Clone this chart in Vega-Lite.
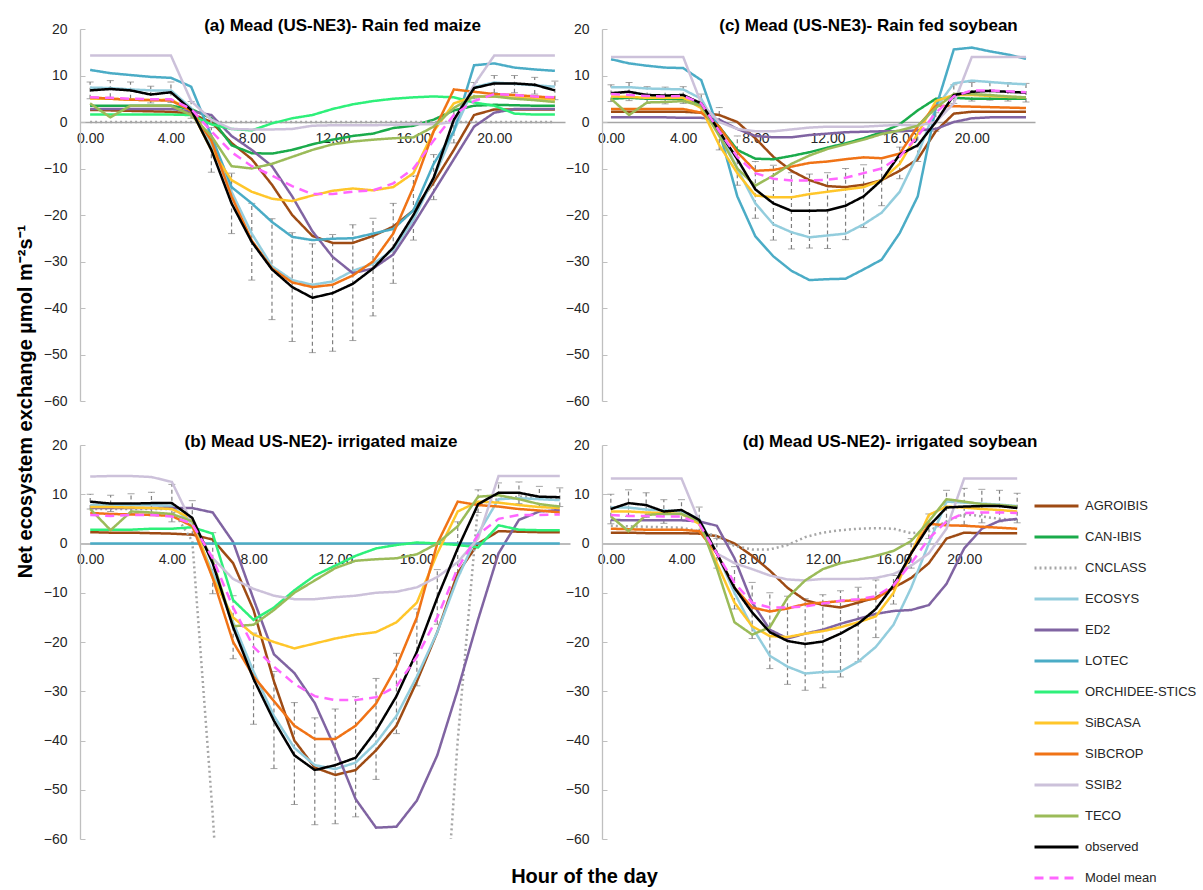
{
"$schema": "https://vega.github.io/schema/vega-lite/v6.json",
"background": "white",
"padding": {"left": 16, "top": 17, "right": 0, "bottom": 0},
"title": {"text": "Net ecosystem exchange µmol m⁻²s⁻¹", "orient": "left", "anchor": "middle", "font": "Liberation Sans", "fontSize": 20, "fontWeight": "bold", "color": "#000000", "offset": -13, "dx": 54, "baseline": "bottom"},
"config": {
  "view": {"stroke": null},
  "font": "Liberation Sans",
  "axis": {"labelFont": "Liberation Sans", "labelFontSize": 14, "labelColor": "#262626", "grid": false, "domainColor": "#BFBFBF", "domainWidth": 1.3, "tickColor": "#BFBFBF"},
  "axisX": {"ticks": false, "labelPadding": 9, "labelFlush": false, "labelOverlap": false, "domainColor": "#A6A6A6"},
  "axisY": {"tickCount": 8, "tickSize": -5, "labelPadding": 18},
  "title": {"font": "Liberation Sans", "fontSize": 17, "fontWeight": "bold", "color": "#000000", "anchor": "middle", "offset": -13, "baseline": "alphabetic"},
  "legend": {"orient": "none", "legendX": 953, "legendY": 462, "symbolType": "stroke", "symbolSize": 1936, "symbolStrokeWidth": 3, "clipHeight": 30.2, "rowPadding": 0, "labelFontSize": 13, "labelFont": "Liberation Sans", "labelColor": "#262626", "labelOffset": 5, "padding": 0, "labelLimit": 300}
},
"datasets": {
"a": [
{"h":0,"AGROIBIS":2.6,"CAN-IBIS":3.5,"CNCLASS":0,"ECOSYS":7.4,"ED2":2.8,"LOTEC":11.2,"ORCHIDEE-STICS":1.6,"SiBCASA":5,"SIBCROP":5.3,"SSIB2":14.3,"TECO":4,"observed":6.8,"Model mean":5.3,"lo":5.0,"hi":8.6},
{"h":1,"AGROIBIS":2.5,"CAN-IBIS":3.5,"CNCLASS":0,"ECOSYS":7.3,"ED2":2.8,"LOTEC":10.5,"ORCHIDEE-STICS":1.6,"SiBCASA":5,"SIBCROP":5,"SSIB2":14.3,"TECO":1,"observed":7.1,"Model mean":5.2,"lo":5.3,"hi":8.9},
{"h":2,"AGROIBIS":2.4,"CAN-IBIS":3.5,"CNCLASS":0,"ECOSYS":7,"ED2":2.8,"LOTEC":10.1,"ORCHIDEE-STICS":1.6,"SiBCASA":4.8,"SIBCROP":4.8,"SSIB2":14.3,"TECO":3.5,"observed":6.8,"Model mean":5,"lo":5,"hi":8.6},
{"h":3,"AGROIBIS":2.3,"CAN-IBIS":3.5,"CNCLASS":0,"ECOSYS":6.8,"ED2":2.8,"LOTEC":9.7,"ORCHIDEE-STICS":1.6,"SiBCASA":4.7,"SIBCROP":4.7,"SSIB2":14.3,"TECO":3.5,"observed":5.9,"Model mean":4.9,"lo":4.1,"hi":7.7},
{"h":4,"AGROIBIS":2.2,"CAN-IBIS":3.5,"CNCLASS":0,"ECOSYS":6.8,"ED2":2.8,"LOTEC":9.5,"ORCHIDEE-STICS":1.6,"SiBCASA":4.8,"SIBCROP":4.6,"SSIB2":14.3,"TECO":3.5,"observed":6.4,"Model mean":4.9,"lo":4.2,"hi":8.6},
{"h":5,"AGROIBIS":1.8,"CAN-IBIS":2.8,"CNCLASS":0,"ECOSYS":3,"ED2":2.3,"LOTEC":7.6,"ORCHIDEE-STICS":1.5,"SiBCASA":2.5,"SIBCROP":2.5,"SSIB2":4.5,"TECO":1.5,"observed":2.6,"Model mean":2.8,"lo":0.8,"hi":4.4},
{"h":6,"AGROIBIS":0,"CAN-IBIS":0.8,"CNCLASS":0,"ECOSYS":-5,"ED2":1.5,"LOTEC":-3,"ORCHIDEE-STICS":-0.5,"SiBCASA":-6,"SIBCROP":-4,"SSIB2":0.5,"TECO":-3,"observed":-6,"Model mean":-2,"lo":-10.8,"hi":-1.2},
{"h":7,"AGROIBIS":-4.5,"CAN-IBIS":-5,"CNCLASS":0,"ECOSYS":-15,"ED2":-3,"LOTEC":-14,"ORCHIDEE-STICS":-1.5,"SiBCASA":-12.5,"SIBCROP":-16,"SSIB2":-1.5,"TECO":-9.5,"observed":-17.5,"Model mean":-6.5,"lo":-24,"hi":-11},
{"h":8,"AGROIBIS":-8,"CAN-IBIS":-6.7,"CNCLASS":0,"ECOSYS":-24,"ED2":-6,"LOTEC":-17.5,"ORCHIDEE-STICS":-1.8,"SiBCASA":-15,"SIBCROP":-25.5,"SSIB2":-1.6,"TECO":-10,"observed":-25.8,"Model mean":-9.5,"lo":-34,"hi":-17.5},
{"h":9,"AGROIBIS":-13.5,"CAN-IBIS":-6.8,"CNCLASS":0,"ECOSYS":-31,"ED2":-9.5,"LOTEC":-21.5,"ORCHIDEE-STICS":-0.3,"SiBCASA":-16.5,"SIBCROP":-31.5,"SSIB2":-1.6,"TECO":-9,"observed":-31.7,"Model mean":-11.5,"lo":-42.5,"hi":-20.8},
{"h":10,"AGROIBIS":-20,"CAN-IBIS":-6,"CNCLASS":0,"ECOSYS":-34,"ED2":-16,"LOTEC":-24.7,"ORCHIDEE-STICS":0.8,"SiBCASA":-17,"SIBCROP":-34.5,"SSIB2":-1.5,"TECO":-7.5,"observed":-35.5,"Model mean":-13.8,"lo":-47.2,"hi":-23.8},
{"h":11,"AGROIBIS":-24.5,"CAN-IBIS":-4.8,"CNCLASS":0,"ECOSYS":-35,"ED2":-23.5,"LOTEC":-25.4,"ORCHIDEE-STICS":1.5,"SiBCASA":-15.8,"SIBCROP":-35.5,"SSIB2":-0.8,"TECO":-6,"observed":-37.8,"Model mean":-15.5,"lo":-49.6,"hi":-26.2},
{"h":12,"AGROIBIS":-26,"CAN-IBIS":-3.8,"CNCLASS":0,"ECOSYS":-34.3,"ED2":-29,"LOTEC":-25.1,"ORCHIDEE-STICS":2.8,"SiBCASA":-14.8,"SIBCROP":-35,"SSIB2":-0.7,"TECO":-4.8,"observed":-36.8,"Model mean":-15.5,"lo":-49.3,"hi":-24.2},
{"h":13,"AGROIBIS":-26,"CAN-IBIS":-3,"CNCLASS":0,"ECOSYS":-32,"ED2":-32.5,"LOTEC":-25,"ORCHIDEE-STICS":3.8,"SiBCASA":-14.3,"SIBCROP":-33,"SSIB2":-0.7,"TECO":-4.2,"observed":-34.8,"Model mean":-15,"lo":-47,"hi":-22.1},
{"h":14,"AGROIBIS":-24.5,"CAN-IBIS":-2.5,"CNCLASS":0,"ECOSYS":-30.5,"ED2":-31.5,"LOTEC":-24,"ORCHIDEE-STICS":4.5,"SiBCASA":-14.7,"SIBCROP":-30,"SSIB2":-0.7,"TECO":-3.8,"observed":-31.5,"Model mean":-14.7,"lo":-41.7,"hi":-20.7},
{"h":15,"AGROIBIS":-22.5,"CAN-IBIS":-1.3,"CNCLASS":0,"ECOSYS":-27.5,"ED2":-28.5,"LOTEC":-23,"ORCHIDEE-STICS":5,"SiBCASA":-14,"SIBCROP":-24,"SSIB2":-0.6,"TECO":-3.5,"observed":-27,"Model mean":-13.2,"lo":-34.7,"hi":-17.5},
{"h":16,"AGROIBIS":-19,"CAN-IBIS":-0.8,"CNCLASS":0,"ECOSYS":-21,"ED2":-22,"LOTEC":-19,"ORCHIDEE-STICS":5.3,"SiBCASA":-11,"SIBCROP":-14,"SSIB2":-0.5,"TECO":-3.3,"observed":-20,"Model mean":-10,"lo":-25.4,"hi":-11.6},
{"h":17,"AGROIBIS":-13,"CAN-IBIS":0.5,"CNCLASS":0,"ECOSYS":-12,"ED2":-15,"LOTEC":-9,"ORCHIDEE-STICS":5.5,"SiBCASA":-2,"SIBCROP":-2,"SSIB2":-0.5,"TECO":-1,"observed":-12,"Model mean":-4,"lo":-16.7,"hi":-7},
{"h":18,"AGROIBIS":-6,"CAN-IBIS":2.5,"CNCLASS":0,"ECOSYS":-2,"ED2":-8,"LOTEC":-2,"ORCHIDEE-STICS":5.3,"SiBCASA":4,"SIBCROP":7,"SSIB2":0,"TECO":3,"observed":0.5,"Model mean":1.5,"lo":-4.5,"hi":2.5},
{"h":19,"AGROIBIS":1.5,"CAN-IBIS":3.5,"CNCLASS":0,"ECOSYS":7.5,"ED2":-1,"LOTEC":12.2,"ORCHIDEE-STICS":4.2,"SiBCASA":5.5,"SIBCROP":6.5,"SSIB2":8,"TECO":5.5,"observed":7.3,"Model mean":4.5,"lo":5,"hi":8.5},
{"h":20,"AGROIBIS":2.7,"CAN-IBIS":3.7,"CNCLASS":0,"ECOSYS":8.5,"ED2":2,"LOTEC":12.6,"ORCHIDEE-STICS":3.5,"SiBCASA":5.5,"SIBCROP":6,"SSIB2":14.3,"TECO":5.5,"observed":8.3,"Model mean":6,"lo":6.3,"hi":10},
{"h":21,"AGROIBIS":2.7,"CAN-IBIS":3.6,"CNCLASS":0,"ECOSYS":8.2,"ED2":2.8,"LOTEC":11.7,"ORCHIDEE-STICS":1.8,"SiBCASA":5.2,"SIBCROP":5.8,"SSIB2":14.3,"TECO":5,"observed":8.3,"Model mean":5.8,"lo":6.3,"hi":10},
{"h":22,"AGROIBIS":2.7,"CAN-IBIS":3.5,"CNCLASS":0,"ECOSYS":7.9,"ED2":2.8,"LOTEC":11.3,"ORCHIDEE-STICS":1.6,"SiBCASA":5,"SIBCROP":5.5,"SSIB2":14.3,"TECO":4.7,"observed":8,"Model mean":5.5,"lo":6,"hi":9.6},
{"h":23,"AGROIBIS":2.7,"CAN-IBIS":3.5,"CNCLASS":0,"ECOSYS":7.6,"ED2":2.8,"LOTEC":11,"ORCHIDEE-STICS":1.6,"SiBCASA":4.8,"SIBCROP":5.2,"SSIB2":14.3,"TECO":4.3,"observed":6.8,"Model mean":5.3,"lo":4.8,"hi":8.8}
],
"c": [
{"h":0,"AGROIBIS":2.2,"CAN-IBIS":5,"ECOSYS":7.5,"ED2":1,"LOTEC":13.5,"SiBCASA":5.5,"SIBCROP":2.8,"SSIB2":14,"TECO":5,"observed":6.2,"Model mean":6,"lo":4.4,"hi":8},
{"h":1,"AGROIBIS":2.2,"CAN-IBIS":5.2,"ECOSYS":7.5,"ED2":1,"LOTEC":12.6,"SiBCASA":5.4,"SIBCROP":2.8,"SSIB2":14,"TECO":1.5,"observed":6.5,"Model mean":5.8,"lo":4.6,"hi":8.5},
{"h":2,"AGROIBIS":2.2,"CAN-IBIS":5,"ECOSYS":7.2,"ED2":1,"LOTEC":12.1,"SiBCASA":5.2,"SIBCROP":2.8,"SSIB2":14,"TECO":4.2,"observed":5.8,"Model mean":5.6,"lo":4,"hi":7.6},
{"h":3,"AGROIBIS":2.2,"CAN-IBIS":5,"ECOSYS":7.1,"ED2":1,"LOTEC":11.7,"SiBCASA":5.2,"SIBCROP":2.8,"SSIB2":14,"TECO":4.3,"observed":5.7,"Model mean":5.5,"lo":3.9,"hi":7.5},
{"h":4,"AGROIBIS":2.2,"CAN-IBIS":5,"ECOSYS":7,"ED2":0.9,"LOTEC":11.6,"SiBCASA":5.2,"SIBCROP":2.8,"SSIB2":14,"TECO":4.5,"observed":5.8,"Model mean":5.6,"lo":4,"hi":7.6},
{"h":5,"AGROIBIS":2,"CAN-IBIS":3.5,"ECOSYS":5,"ED2":0.9,"LOTEC":9,"SiBCASA":3,"SIBCROP":2,"SSIB2":4,"TECO":3.5,"observed":4,"Model mean":4,"lo":2,"hi":6},
{"h":6,"AGROIBIS":1.5,"CAN-IBIS":-1,"ECOSYS":-2,"ED2":0.5,"LOTEC":-2,"SiBCASA":-5,"SIBCROP":-1,"SSIB2":0,"TECO":-3,"observed":-2,"Model mean":-2,"lo":-6,"hi":3.1},
{"h":7,"AGROIBIS":0,"CAN-IBIS":-6,"ECOSYS":-10,"ED2":-1.5,"LOTEC":-16,"SiBCASA":-11,"SIBCROP":-6.5,"SSIB2":-1.5,"TECO":-10,"observed":-8,"Model mean":-7.5,"lo":-13.6,"hi":-3},
{"h":8,"AGROIBIS":-3.5,"CAN-IBIS":-7.9,"ECOSYS":-17.5,"ED2":-3,"LOTEC":-24.6,"SiBCASA":-15.8,"SIBCROP":-10.5,"SSIB2":-2,"TECO":-13.7,"observed":-14.5,"Model mean":-11,"lo":-20.7,"hi":-8.5},
{"h":9,"AGROIBIS":-7.5,"CAN-IBIS":-8,"ECOSYS":-22,"ED2":-3.3,"LOTEC":-28.9,"SiBCASA":-16.2,"SIBCROP":-10.3,"SSIB2":-2,"TECO":-11.5,"observed":-17.5,"Model mean":-12.2,"lo":-25.4,"hi":-9.3},
{"h":10,"AGROIBIS":-10.5,"CAN-IBIS":-7.3,"ECOSYS":-23.7,"ED2":-3.3,"LOTEC":-32,"SiBCASA":-16.2,"SIBCROP":-9.6,"SSIB2":-1.6,"TECO":-9,"observed":-19.1,"Model mean":-12.6,"lo":-27.3,"hi":-10.9},
{"h":11,"AGROIBIS":-12.5,"CAN-IBIS":-6.5,"ECOSYS":-24.8,"ED2":-2.8,"LOTEC":-34,"SiBCASA":-15.5,"SIBCROP":-8.8,"SSIB2":-1.2,"TECO":-7.2,"observed":-19.1,"Model mean":-12.6,"lo":-27.1,"hi":-11.2},
{"h":12,"AGROIBIS":-13.8,"CAN-IBIS":-5.5,"ECOSYS":-24.4,"ED2":-2.5,"LOTEC":-33.8,"SiBCASA":-15,"SIBCROP":-8.5,"SSIB2":-1,"TECO":-5.8,"observed":-19,"Model mean":-12.4,"lo":-27.2,"hi":-10.9},
{"h":13,"AGROIBIS":-14,"CAN-IBIS":-4.6,"ECOSYS":-24,"ED2":-2.2,"LOTEC":-33.7,"SiBCASA":-14.5,"SIBCROP":-8,"SSIB2":-1,"TECO":-4.8,"observed":-18,"Model mean":-12,"lo":-25.3,"hi":-10},
{"h":14,"AGROIBIS":-13.5,"CAN-IBIS":-3.5,"ECOSYS":-22,"ED2":-2.1,"LOTEC":-31.7,"SiBCASA":-14,"SIBCROP":-7.6,"SSIB2":-1,"TECO":-3.8,"observed":-16,"Model mean":-11,"lo":-22.7,"hi":-9.2},
{"h":15,"AGROIBIS":-12.5,"CAN-IBIS":-2.2,"ECOSYS":-19.5,"ED2":-2,"LOTEC":-29.6,"SiBCASA":-12.5,"SIBCROP":-7.8,"SSIB2":-0.8,"TECO":-2.6,"observed":-12.5,"Model mean":-10,"lo":-18,"hi":-7.7},
{"h":16,"AGROIBIS":-10.5,"CAN-IBIS":-0.5,"ECOSYS":-15,"ED2":-2,"LOTEC":-23.9,"SiBCASA":-9,"SIBCROP":-6.8,"SSIB2":-0.6,"TECO":-1.8,"observed":-7,"Model mean":-7.5,"lo":-12.2,"hi":-5.4},
{"h":17,"AGROIBIS":-8,"CAN-IBIS":2.5,"ECOSYS":-7,"ED2":-1.8,"LOTEC":-16,"SiBCASA":-2.5,"SIBCROP":-1,"SSIB2":-0.8,"TECO":-0.8,"observed":-5,"Model mean":-3,"lo":-8.5,"hi":-1.5},
{"h":18,"AGROIBIS":-2,"CAN-IBIS":5,"ECOSYS":3,"ED2":-1.5,"LOTEC":3,"SiBCASA":4.5,"SIBCROP":3.5,"SSIB2":0,"TECO":3,"observed":0,"Model mean":2,"lo":-2,"hi":2},
{"h":19,"AGROIBIS":1.8,"CAN-IBIS":5.2,"ECOSYS":8.3,"ED2":0,"LOTEC":15.6,"SiBCASA":5.8,"SIBCROP":3.4,"SSIB2":4,"TECO":6,"observed":5.8,"Model mean":5.5,"lo":4,"hi":8},
{"h":20,"AGROIBIS":2.2,"CAN-IBIS":5,"ECOSYS":8.9,"ED2":0.8,"LOTEC":16,"SiBCASA":5.8,"SIBCROP":3.3,"SSIB2":14,"TECO":6,"observed":6.5,"Model mean":6.8,"lo":4.5,"hi":8.5},
{"h":21,"AGROIBIS":2.2,"CAN-IBIS":5,"ECOSYS":8.6,"ED2":1,"LOTEC":15.2,"SiBCASA":5.6,"SIBCROP":3.2,"SSIB2":14,"TECO":5.8,"observed":6.7,"Model mean":6.8,"lo":4.7,"hi":8.7},
{"h":22,"AGROIBIS":2.2,"CAN-IBIS":5,"ECOSYS":8.3,"ED2":1,"LOTEC":14.5,"SiBCASA":5.4,"SIBCROP":3.1,"SSIB2":14,"TECO":5.5,"observed":6.5,"Model mean":6.6,"lo":4.5,"hi":8.5},
{"h":23,"AGROIBIS":2.2,"CAN-IBIS":5,"ECOSYS":8.1,"ED2":1,"LOTEC":13.6,"SiBCASA":5.3,"SIBCROP":3,"SSIB2":14,"TECO":5.3,"observed":6.3,"Model mean":6.4,"lo":4.3,"hi":8.3}
],
"b": [
{"h":0,"AGROIBIS":2.3,"CNCLASS":7,"ECOSYS":7.8,"ED2":7.2,"LOTEC":0,"ORCHIDEE-STICS":2.8,"SiBCASA":7.4,"SIBCROP":6.2,"SSIB2":13.6,"TECO":7,"observed":8.5,"Model mean":5.8,"lo":7,"hi":10},
{"h":1,"AGROIBIS":2.2,"CNCLASS":7,"ECOSYS":7.8,"ED2":7.2,"LOTEC":0,"ORCHIDEE-STICS":2.8,"SiBCASA":7.4,"SIBCROP":6,"SSIB2":13.7,"TECO":2.7,"observed":8.1,"Model mean":5.6,"lo":6.5,"hi":9.8},
{"h":2,"AGROIBIS":2.2,"CNCLASS":7,"ECOSYS":7.8,"ED2":7.2,"LOTEC":0,"ORCHIDEE-STICS":2.8,"SiBCASA":7.3,"SIBCROP":5.9,"SSIB2":13.7,"TECO":6.5,"observed":8.1,"Model mean":5.8,"lo":6.1,"hi":10.1},
{"h":3,"AGROIBIS":2.1,"CNCLASS":7,"ECOSYS":7.8,"ED2":7.2,"LOTEC":0,"ORCHIDEE-STICS":3,"SiBCASA":7.2,"SIBCROP":5.8,"SSIB2":13.5,"TECO":6.3,"observed":8.2,"Model mean":5.8,"lo":6,"hi":10.4},
{"h":4,"AGROIBIS":2,"CNCLASS":7,"ECOSYS":7.6,"ED2":7.2,"LOTEC":0,"ORCHIDEE-STICS":3,"SiBCASA":7,"SIBCROP":5.6,"SSIB2":12.5,"TECO":6,"observed":8.2,"Model mean":5.5,"lo":4.4,"hi":12},
{"h":5,"AGROIBIS":1.8,"CNCLASS":0.5,"ECOSYS":4,"ED2":7.2,"LOTEC":0,"ORCHIDEE-STICS":3.3,"SiBCASA":5,"SIBCROP":3.5,"SSIB2":4,"TECO":4.5,"observed":5.2,"Model mean":4,"lo":1.7,"hi":8.7},
{"h":6,"AGROIBIS":0.8,"CNCLASS":-55,"ECOSYS":-6,"ED2":6.3,"LOTEC":0,"ORCHIDEE-STICS":2,"SiBCASA":-7,"SIBCROP":-7,"SSIB2":-3,"TECO":-3.5,"observed":-4,"Model mean":-3,"lo":-10.2,"hi":2.2},
{"h":7,"AGROIBIS":-4,"CNCLASS":-120,"ECOSYS":-16,"ED2":0.3,"LOTEC":0,"ORCHIDEE-STICS":-11.5,"SiBCASA":-15,"SIBCROP":-20,"SSIB2":-7.2,"TECO":-16.8,"observed":-17,"Model mean":-13,"lo":-23.4,"hi":-10.6},
{"h":8,"AGROIBIS":-13.5,"CNCLASS":-120,"ECOSYS":-26,"ED2":-11.3,"LOTEC":0,"ORCHIDEE-STICS":-15.5,"SiBCASA":-18.5,"SIBCROP":-27,"SSIB2":-9.2,"TECO":-16.5,"observed":-27.5,"Model mean":-21,"lo":-36.7,"hi":-18.2},
{"h":9,"AGROIBIS":-28,"CNCLASS":-120,"ECOSYS":-35,"ED2":-22.5,"LOTEC":0,"ORCHIDEE-STICS":-13,"SiBCASA":-20,"SIBCROP":-32,"SSIB2":-10.6,"TECO":-13.5,"observed":-36,"Model mean":-25,"lo":-45.7,"hi":-26},
{"h":10,"AGROIBIS":-40,"CNCLASS":-120,"ECOSYS":-41.5,"ED2":-26.3,"LOTEC":0,"ORCHIDEE-STICS":-9.5,"SiBCASA":-21.3,"SIBCROP":-37,"SSIB2":-11.3,"TECO":-10,"observed":-43,"Model mean":-28.5,"lo":-53,"hi":-32.3},
{"h":11,"AGROIBIS":-45.5,"CNCLASS":-120,"ECOSYS":-45,"ED2":-32.4,"LOTEC":0,"ORCHIDEE-STICS":-6.5,"SiBCASA":-20.3,"SIBCROP":-39.7,"SSIB2":-11.3,"TECO":-7.5,"observed":-46,"Model mean":-31,"lo":-57.1,"hi":-35.4},
{"h":12,"AGROIBIS":-47,"CNCLASS":-120,"ECOSYS":-45.8,"ED2":-41.6,"LOTEC":0,"ORCHIDEE-STICS":-4.5,"SiBCASA":-19.3,"SIBCROP":-39.7,"SSIB2":-10.9,"TECO":-5,"observed":-45,"Model mean":-31.8,"lo":-56.9,"hi":-33.6},
{"h":13,"AGROIBIS":-46,"CNCLASS":-120,"ECOSYS":-44.5,"ED2":-51.9,"LOTEC":0,"ORCHIDEE-STICS":-2.5,"SiBCASA":-18.5,"SIBCROP":-37,"SSIB2":-10.6,"TECO":-3.5,"observed":-43.5,"Model mean":-31.8,"lo":-55.5,"hi":-31.1},
{"h":14,"AGROIBIS":-42,"CNCLASS":-120,"ECOSYS":-40.5,"ED2":-57.7,"LOTEC":0,"ORCHIDEE-STICS":-1,"SiBCASA":-18,"SIBCROP":-32.5,"SSIB2":-10,"TECO":-3.2,"observed":-38,"Model mean":-31.2,"lo":-47.9,"hi":-27.4},
{"h":15,"AGROIBIS":-37,"CNCLASS":-120,"ECOSYS":-35,"ED2":-57.5,"LOTEC":0,"ORCHIDEE-STICS":-0.3,"SiBCASA":-16,"SIBCROP":-25,"SSIB2":-9.8,"TECO":-3,"observed":-31,"Model mean":-29,"lo":-38.6,"hi":-22.3},
{"h":16,"AGROIBIS":-28,"CNCLASS":-120,"ECOSYS":-27,"ED2":-52.2,"LOTEC":0,"ORCHIDEE-STICS":0.2,"SiBCASA":-12,"SIBCROP":-15,"SSIB2":-8.9,"TECO":-2.2,"observed":-22,"Model mean":-23,"lo":-28.9,"hi":-13.3},
{"h":17,"AGROIBIS":-18,"CNCLASS":-100,"ECOSYS":-18,"ED2":-43,"LOTEC":0,"ORCHIDEE-STICS":0,"SiBCASA":-2,"SIBCROP":0,"SSIB2":-6.8,"TECO":0,"observed":-11,"Model mean":-15,"lo":-16.4,"hi":-5.3},
{"h":18,"AGROIBIS":-6,"CNCLASS":-40,"ECOSYS":-7,"ED2":-29.7,"LOTEC":0,"ORCHIDEE-STICS":-0.3,"SiBCASA":6.5,"SIBCROP":8.5,"SSIB2":-3.8,"TECO":3.5,"observed":-1,"Model mean":-5,"lo":-6,"hi":4.4},
{"h":19,"AGROIBIS":0,"CNCLASS":8,"ECOSYS":2,"ED2":-15.4,"LOTEC":0,"ORCHIDEE-STICS":-0.8,"SiBCASA":8.5,"SIBCROP":7.8,"SSIB2":1,"TECO":9.5,"observed":8,"Model mean":1.8,"lo":6.3,"hi":10.9},
{"h":20,"AGROIBIS":2.5,"CNCLASS":9,"ECOSYS":9,"ED2":-2,"LOTEC":0,"ORCHIDEE-STICS":3.7,"SiBCASA":8.3,"SIBCROP":7.5,"SSIB2":13.7,"TECO":9.8,"observed":10.3,"Model mean":5,"lo":8.3,"hi":12.3},
{"h":21,"AGROIBIS":2.4,"CNCLASS":9.5,"ECOSYS":9.2,"ED2":4.8,"LOTEC":0,"ORCHIDEE-STICS":2.8,"SiBCASA":7.8,"SIBCROP":7,"SSIB2":13.7,"TECO":9,"observed":10.3,"Model mean":5.8,"lo":8.1,"hi":12.5},
{"h":22,"AGROIBIS":2.3,"CNCLASS":9.3,"ECOSYS":9,"ED2":6.5,"LOTEC":0,"ORCHIDEE-STICS":2.7,"SiBCASA":7.4,"SIBCROP":6.7,"SSIB2":13.7,"TECO":8,"observed":9.5,"Model mean":5.8,"lo":7.4,"hi":11.6},
{"h":23,"AGROIBIS":2.3,"CNCLASS":9,"ECOSYS":8.8,"ED2":6.8,"LOTEC":0,"ORCHIDEE-STICS":2.7,"SiBCASA":7.2,"SIBCROP":6.3,"SSIB2":13.7,"TECO":7.5,"observed":9.4,"Model mean":5.9,"lo":7.5,"hi":11.3}
],
"d": [
{"h":0,"AGROIBIS":2.2,"CNCLASS":3.6,"ECOSYS":7.3,"ED2":4.8,"SiBCASA":6.5,"SIBCROP":3,"SSIB2":13.2,"TECO":5.5,"observed":7,"Model mean":5.8,"lo":4,"hi":10},
{"h":1,"AGROIBIS":2.2,"CNCLASS":3.5,"ECOSYS":7.3,"ED2":4.7,"SiBCASA":6.5,"SIBCROP":2.9,"SSIB2":13.2,"TECO":2.5,"observed":8.2,"Model mean":5.6,"lo":5.5,"hi":10.9},
{"h":2,"AGROIBIS":2.1,"CNCLASS":3.4,"ECOSYS":6.9,"ED2":4.7,"SiBCASA":6.3,"SIBCROP":2.8,"SSIB2":13.2,"TECO":5.8,"observed":7.8,"Model mean":5.6,"lo":5.3,"hi":10.3},
{"h":3,"AGROIBIS":2.1,"CNCLASS":3.3,"ECOSYS":6.7,"ED2":4.7,"SiBCASA":6.2,"SIBCROP":2.8,"SSIB2":13.2,"TECO":6,"observed":6.5,"Model mean":5.5,"lo":4.1,"hi":8.9},
{"h":4,"AGROIBIS":2.1,"CNCLASS":3.2,"ECOSYS":6.5,"ED2":4.7,"SiBCASA":6,"SIBCROP":2.8,"SSIB2":13.2,"TECO":6,"observed":6.8,"Model mean":5.5,"lo":4.7,"hi":8.9},
{"h":5,"AGROIBIS":2,"CNCLASS":2.5,"ECOSYS":5,"ED2":4.5,"SiBCASA":4,"SIBCROP":2.5,"SSIB2":4.5,"TECO":4.5,"observed":4.8,"Model mean":4,"lo":2.2,"hi":7.4},
{"h":6,"AGROIBIS":1.5,"CNCLASS":1.5,"ECOSYS":-2,"ED2":3.6,"SiBCASA":-4,"SIBCROP":-2,"SSIB2":-2,"TECO":-5,"observed":-2,"Model mean":-2,"lo":-5,"hi":1},
{"h":7,"AGROIBIS":0,"CNCLASS":-0.5,"ECOSYS":-10,"ED2":-3,"SiBCASA":-12,"SIBCROP":-9,"SSIB2":-4,"TECO":-16,"observed":-9,"Model mean":-8,"lo":-13.3,"hi":-4.7},
{"h":8,"AGROIBIS":-2.5,"CNCLASS":-1.2,"ECOSYS":-17,"ED2":-12,"SiBCASA":-16.8,"SIBCROP":-13,"SSIB2":-5.2,"TECO":-18.5,"observed":-14,"Model mean":-12,"lo":-19.3,"hi":-7.9},
{"h":9,"AGROIBIS":-5.5,"CNCLASS":-1.2,"ECOSYS":-22.8,"ED2":-17.5,"SiBCASA":-18.8,"SIBCROP":-13.8,"SSIB2":-6.5,"TECO":-17,"observed":-18,"Model mean":-13,"lo":-25.4,"hi":-10},
{"h":10,"AGROIBIS":-9,"CNCLASS":-0.3,"ECOSYS":-25,"ED2":-19.3,"SiBCASA":-19,"SIBCROP":-13.2,"SSIB2":-7.3,"TECO":-11,"observed":-19.8,"Model mean":-13,"lo":-28.6,"hi":-10.7},
{"h":11,"AGROIBIS":-11.5,"CNCLASS":1.3,"ECOSYS":-26.4,"ED2":-18.3,"SiBCASA":-18.3,"SIBCROP":-12.3,"SSIB2":-7.5,"TECO":-7.5,"observed":-20.4,"Model mean":-12.8,"lo":-29.8,"hi":-11.2},
{"h":12,"AGROIBIS":-12.5,"CNCLASS":2.2,"ECOSYS":-26.1,"ED2":-17.5,"SiBCASA":-17.8,"SIBCROP":-12,"SSIB2":-7.2,"TECO":-5.2,"observed":-19.9,"Model mean":-12.2,"lo":-29.3,"hi":-10.4},
{"h":13,"AGROIBIS":-13,"CNCLASS":2.7,"ECOSYS":-26,"ED2":-16.3,"SiBCASA":-17,"SIBCROP":-11.7,"SSIB2":-7.2,"TECO":-4,"observed":-18.3,"Model mean":-11.6,"lo":-27.1,"hi":-9.6},
{"h":14,"AGROIBIS":-12,"CNCLASS":3,"ECOSYS":-24,"ED2":-15.3,"SiBCASA":-16,"SIBCROP":-11.5,"SSIB2":-7.2,"TECO":-3.3,"observed":-16.3,"Model mean":-11.3,"lo":-24,"hi":-8.9},
{"h":15,"AGROIBIS":-11,"CNCLASS":3.1,"ECOSYS":-21,"ED2":-14.3,"SiBCASA":-14.8,"SIBCROP":-11.2,"SSIB2":-7,"TECO":-2.5,"observed":-13.3,"Model mean":-10.7,"lo":-19.1,"hi":-7.4},
{"h":16,"AGROIBIS":-9,"CNCLASS":3,"ECOSYS":-16.5,"ED2":-13.7,"SiBCASA":-10,"SIBCROP":-9,"SSIB2":-6.2,"TECO":-1.5,"observed":-8.5,"Model mean":-8.5,"lo":-12.3,"hi":-6.5},
{"h":17,"AGROIBIS":-7,"CNCLASS":2.1,"ECOSYS":-9,"ED2":-13.5,"SiBCASA":-2,"SIBCROP":-2,"SSIB2":-4.5,"TECO":0.5,"observed":-2,"Model mean":-4,"lo":-5,"hi":1},
{"h":18,"AGROIBIS":-4,"CNCLASS":2.5,"ECOSYS":0,"ED2":-12.5,"SiBCASA":5.8,"SIBCROP":4,"SSIB2":-2,"TECO":4.5,"observed":3.5,"Model mean":1,"lo":1,"hi":6},
{"h":19,"AGROIBIS":1,"CNCLASS":4.5,"ECOSYS":8.5,"ED2":-8.2,"SiBCASA":7.5,"SIBCROP":3.7,"SSIB2":3,"TECO":9,"observed":7.3,"Model mean":4.5,"lo":3.8,"hi":10.8},
{"h":20,"AGROIBIS":2.2,"CNCLASS":6,"ECOSYS":8.3,"ED2":-1,"SiBCASA":7.3,"SIBCROP":3.6,"SSIB2":13.2,"TECO":8.5,"observed":7.5,"Model mean":6.2,"lo":3.8,"hi":11.2},
{"h":21,"AGROIBIS":2.1,"CNCLASS":5.5,"ECOSYS":8.1,"ED2":3,"SiBCASA":7,"SIBCROP":3.4,"SSIB2":13.2,"TECO":8,"observed":7.6,"Model mean":6.3,"lo":4.2,"hi":11},
{"h":22,"AGROIBIS":2.1,"CNCLASS":5,"ECOSYS":7.9,"ED2":4.6,"SiBCASA":6.8,"SIBCROP":3.2,"SSIB2":13.2,"TECO":7.8,"observed":7.6,"Model mean":6.3,"lo":4.4,"hi":10.8},
{"h":23,"AGROIBIS":2.1,"CNCLASS":4.8,"ECOSYS":7.6,"ED2":5,"SiBCASA":6.5,"SIBCROP":3,"SSIB2":13.2,"TECO":7.5,"observed":7.2,"Model mean":6.2,"lo":4.2,"hi":10.2}
]
},
"columns": 2,
"spacing": {"row": 44, "column": 32},
"bounds": "flush",
"concat": [
  {"width": 485, "height": 372, "data": {"name": "a"},
   "title": {"text": "(a) Mead (US-NE3)- Rain fed maize", "dx": 20},
   "encoding": {"x": {"field": "h", "type": "quantitative", "scale": {"domain": [-0.5, 23.5], "nice": false, "zero": false}, "axis": {"title": null, "values": [0,4,8,12,16,20], "format": ".2f", "offset": -279}}},
   "layer": [
    {"mark": {"type": "errorbar", "ticks": {"size": 7, "color": "#7F7F7F", "strokeWidth": 1.2}, "rule": {"strokeDash": [4,3], "color": "#7F7F7F", "strokeWidth": 1.2}},
     "encoding": {"y": {"field": "lo", "type": "quantitative", "scale": {"domain": [-60, 20], "nice": false}, "axis": {"title": null}}, "y2": {"field": "hi"}}},
    {"transform": [{"fold": ["AGROIBIS","CAN-IBIS","CNCLASS","ECOSYS","ED2","LOTEC","ORCHIDEE-STICS","SiBCASA","SIBCROP","SSIB2","TECO","observed","Model mean"], "as": ["s", "v"]}],
     "mark": {"type": "line", "strokeWidth": 2.5, "clip": true},
     "encoding": {"y": {"field": "v", "type": "quantitative", "scale": {"domain": [-60, 20], "nice": false}, "axis": {"title": null}},
       "color": {"field": "s", "type": "nominal", "scale": {"domain": ["AGROIBIS","CAN-IBIS","CNCLASS","ECOSYS","ED2","LOTEC","ORCHIDEE-STICS","SiBCASA","SIBCROP","SSIB2","TECO","observed","Model mean"], "range": ["#9E4B14","#1AAB4B","#A6A6A6","#93CDDD","#8064A2","#4BACC6","#2EF07A","#FFC62A","#F07316","#CCC1DA","#9BBB59","#000000","#FF66FF"]}, "legend": {"title": null}},
       "strokeDash": {"field": "s", "type": "nominal", "scale": {"domain": ["AGROIBIS","CAN-IBIS","CNCLASS","ECOSYS","ED2","LOTEC","ORCHIDEE-STICS","SiBCASA","SIBCROP","SSIB2","TECO","observed","Model mean"], "range": [[1,0],[1,0],[2,3],[1,0],[1,0],[1,0],[1,0],[1,0],[1,0],[1,0],[1,0],[1,0],[9,6]]}, "legend": {"title": null}}}}
   ]},
  {"width": 433, "height": 372, "data": {"name": "c"},
   "title": {"text": "(c) Mead (US-NE3)- Rain fed soybean", "dx": 50},
   "encoding": {"x": {"field": "h", "type": "quantitative", "scale": {"domain": [-0.5, 23.5], "nice": false, "zero": false}, "axis": {"title": null, "values": [0,4,8,12,16,20], "format": ".2f", "offset": -279}}},
   "layer": [
    {"mark": {"type": "errorbar", "ticks": {"size": 7, "color": "#7F7F7F", "strokeWidth": 1.2}, "rule": {"strokeDash": [4,3], "color": "#7F7F7F", "strokeWidth": 1.2}},
     "encoding": {"y": {"field": "lo", "type": "quantitative", "scale": {"domain": [-60, 20], "nice": false}, "axis": {"title": null}}, "y2": {"field": "hi"}}},
    {"transform": [{"fold": ["AGROIBIS","CAN-IBIS","ECOSYS","ED2","LOTEC","SiBCASA","SIBCROP","SSIB2","TECO","observed","Model mean"], "as": ["s", "v"]}],
     "mark": {"type": "line", "strokeWidth": 2.5, "clip": true},
     "encoding": {"y": {"field": "v", "type": "quantitative", "scale": {"domain": [-60, 20], "nice": false}, "axis": {"title": null}},
       "color": {"field": "s", "type": "nominal", "legend": {"title": null}},
       "strokeDash": {"field": "s", "type": "nominal", "legend": {"title": null}}}}
   ]},
  {"width": 490, "height": 394, "data": {"name": "b"},
   "title": {"text": "(b) Mead US-NE2)- irrigated maize", "dx": -4},
   "encoding": {"x": {"field": "h", "type": "quantitative", "scale": {"domain": [-0.5, 23.5], "nice": false, "zero": false}, "axis": {"title": "Hour of the day", "titleX": 504, "titleY": 332.5, "titleAlign": "center", "titleBaseline": "middle", "titleFont": "Liberation Sans", "titleFontSize": 20, "titleFontWeight": "bold", "titleColor": "#000000", "values": [0,4,8,12,16,20], "format": ".2f", "offset": -295.5}}},
   "layer": [
    {"mark": {"type": "errorbar", "ticks": {"size": 7, "color": "#7F7F7F", "strokeWidth": 1.2}, "rule": {"strokeDash": [4,3], "color": "#7F7F7F", "strokeWidth": 1.2}},
     "encoding": {"y": {"field": "lo", "type": "quantitative", "scale": {"domain": [-60, 20], "nice": false}, "axis": {"title": null}}, "y2": {"field": "hi"}}},
    {"transform": [{"fold": ["AGROIBIS","CNCLASS","ECOSYS","ED2","LOTEC","ORCHIDEE-STICS","SiBCASA","SIBCROP","SSIB2","TECO","observed","Model mean"], "as": ["s", "v"]}],
     "mark": {"type": "line", "strokeWidth": 2.5, "clip": true},
     "encoding": {"y": {"field": "v", "type": "quantitative", "scale": {"domain": [-60, 20], "nice": false}, "axis": {"title": null}},
       "color": {"field": "s", "type": "nominal", "legend": {"title": null}},
       "strokeDash": {"field": "s", "type": "nominal", "legend": {"title": null}}}}
   ]},
  {"width": 424, "height": 394, "data": {"name": "d"},
   "title": {"text": "(d) Mead US-NE2)- irrigated soybean", "dx": 76},
   "encoding": {"x": {"field": "h", "type": "quantitative", "scale": {"domain": [-0.5, 23.5], "nice": false, "zero": false}, "axis": {"title": null, "values": [0,4,8,12,16,20], "format": ".2f", "offset": -295.5}}},
   "layer": [
    {"mark": {"type": "errorbar", "ticks": {"size": 7, "color": "#7F7F7F", "strokeWidth": 1.2}, "rule": {"strokeDash": [4,3], "color": "#7F7F7F", "strokeWidth": 1.2}},
     "encoding": {"y": {"field": "lo", "type": "quantitative", "scale": {"domain": [-60, 20], "nice": false}, "axis": {"title": null}}, "y2": {"field": "hi"}}},
    {"transform": [{"fold": ["AGROIBIS","CNCLASS","ECOSYS","ED2","SiBCASA","SIBCROP","SSIB2","TECO","observed","Model mean"], "as": ["s", "v"]}],
     "mark": {"type": "line", "strokeWidth": 2.5, "clip": true},
     "encoding": {"y": {"field": "v", "type": "quantitative", "scale": {"domain": [-60, 20], "nice": false}, "axis": {"title": null}},
       "color": {"field": "s", "type": "nominal", "legend": {"title": null}},
       "strokeDash": {"field": "s", "type": "nominal", "legend": {"title": null}}}}
   ]}
]
}
